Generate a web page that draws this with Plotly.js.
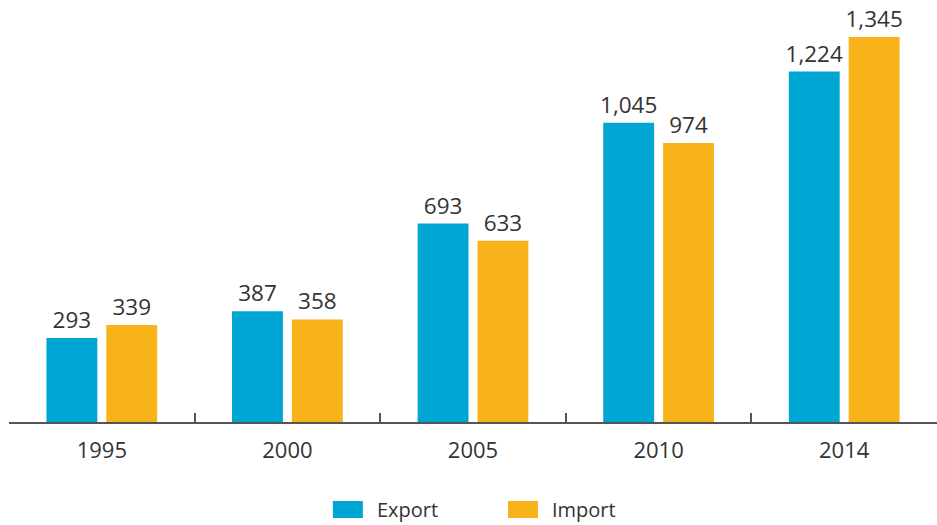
<!DOCTYPE html>
<html>
<head>
<meta charset="utf-8">
<script src="https://cdn.plot.ly/plotly-3.0.1.min.js"></script>
<style>html,body{margin:0;padding:0;background:#fff;}#chart{width:937px;height:525px;}</style>
</head>
<body>
<div id="chart"></div>
<script>
const years = ['1995', '2000', '2005', '2010', '2014'];
const exportValues = [293, 387, 693, 1045, 1224];
const importValues = [339, 358, 633, 974, 1345];
const seriesNames = ['Export', 'Import'];
const seriesColors = ['#00A6D3', '#F8B21A'];

const font = 'Open Sans, sans-serif';
const textColor = '#333333';

function barTrace(name, values, color) {
  return {
    type: 'bar',
    name: name,
    x: years,
    y: values,
    marker: {color: color},
    texttemplate: '%{y:,}',
    textposition: 'outside',
    constraintext: 'none',
    cliponaxis: false,
    textfont: {family: font, size: 22.5, color: textColor},
    hoverinfo: 'skip',
    showlegend: false
  };
}

const data = [
  barTrace(seriesNames[0], exportValues, seriesColors[0]),
  barTrace(seriesNames[1], importValues, seriesColors[1])
];

// Custom legend (large swatches) in paper coordinates
const legendX = [0.349, 0.5377];
const swatchW = 0.0323;
const legendShapes = seriesNames.map((n, i) => ({
  type: 'rect', xref: 'paper', yref: 'paper',
  x0: legendX[i], x1: legendX[i] + swatchW,
  y0: -0.2412, y1: -0.1985,
  fillcolor: seriesColors[i], line: {width: 0}
}));
const legendText = seriesNames.map((n, i) => ({
  xref: 'paper', yref: 'paper',
  x: legendX[i] + swatchW + 0.0135, y: -0.2199,
  xanchor: 'left', yanchor: 'middle',
  text: n, showarrow: false,
  font: {family: font, size: 20, color: textColor}
}));

const layout = {
  width: 937,
  height: 525,
  margin: {l: 9, r: 0, t: 24, b: 103},
  paper_bgcolor: '#ffffff',
  plot_bgcolor: '#ffffff',
  barmode: 'group',
  bargap: 0.355,
  bargroupgap: 0.15,
  showlegend: false,
  shapes: legendShapes,
  annotations: legendText,
  xaxis: {
    type: 'category',
    showline: true,
    linecolor: '#555555',
    linewidth: 2,
    ticks: 'inside',
    tickson: 'boundaries',
    ticklen: 9,
    tickwidth: 2,
    tickcolor: '#555555',
    ticklabelstandoff: 8,
    tickfont: {family: font, size: 22, color: textColor},
    showgrid: false,
    zeroline: false,
    fixedrange: true
  },
  yaxis: {
    visible: false,
    range: [0, 1390],
    showgrid: false,
    zeroline: false,
    fixedrange: true
  }
};

Plotly.newPlot('chart', data, layout, {displayModeBar: false, staticPlot: true});
</script>
</body>
</html>
